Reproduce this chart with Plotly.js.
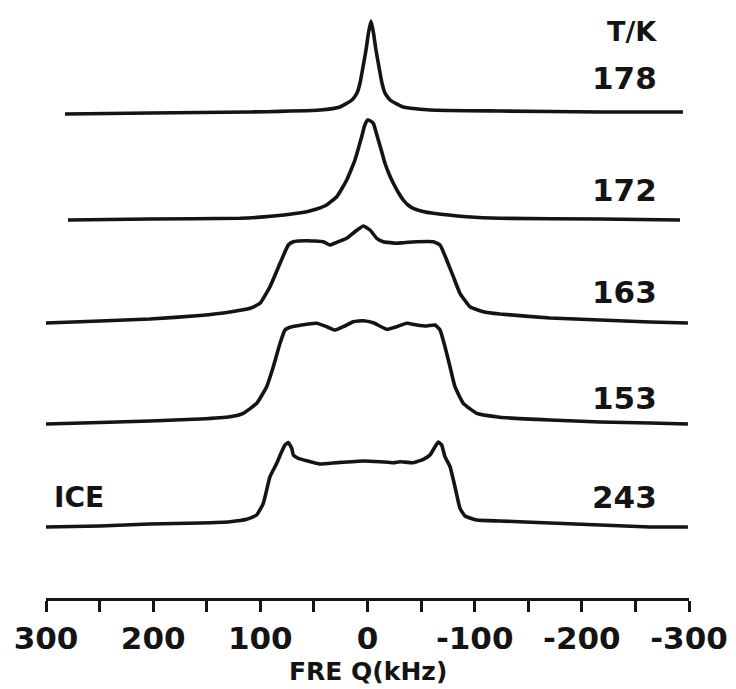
<!DOCTYPE html>
<html>
<head>
<meta charset="utf-8">
<script src="https://cdn.plot.ly/plotly-3.0.1.min.js"></script>
<style>
  html, body { margin: 0; padding: 0; background: #ffffff; }
  #chart { width: 736px; height: 689px; }
</style>
</head>
<body>
<div id="chart"></div>
<script>
// Temperatures (K) for each stacked spectrum, top to bottom
const temperatures = ['178', '172', '163', '153', '243'];
const sideLabel = 'ICE';
const unitLabel = 'T/K';
const axisTitle = 'FRE Q(kHz)';

// Frequency (kHz) and intensity (arbitrary units)
const freq178 = [282.3, 202.9, 109.6, 44.3, 25.7, 14.5, 9.8, 7.0, 4.2, 1.4, -0.9, -3.3, -5.6, -7.9, -10.7, -13.5, -16.3, -21.0, -33.1, -58.3, -123.6, -216.9, -294.4];
const int178  = [-2, -1, 0, 2, 5, 12, 19, 29, 45, 62, 79, 91, 79, 62, 45, 29, 19, 12, 5, 2, 1, 0, 0];

const freq172 = [279.5, 203.0, 119.0, 87.9, 56.7, 47.4, 38.1, 28.7, 24.1, 19.4, 15.4, 11.7, 8.4, 5.4, 2.8, -0.2, -2.8, -5.4, -7.7, -10.1, -13.1, -16.3, -20.1, -24.1, -28.5, -33.4, -37.8, -42.7, -51.8, -61.4, -92.6, -123.6, -216.9, -291.6];
const int172  = [0, 1, 1.7, 4, 8.3, 11, 15, 23.3, 31, 40, 50, 60, 72, 83.3, 94, 100, 99, 96.7, 89, 80, 69, 56.7, 46, 36.7, 28, 20, 15, 11.7, 8.5, 6.7, 3.3, 1.7, 1, 0];

const freq163 = [300.9, 249.6, 203.0, 156.3, 128.3, 109.6, 100.3, 91.0, 81.6, 73.9, 69.2, 56.7, 41.2, 35.0, 28.7, 19.4, 11.7, 3.9, -2.3, -8.6, -14.7, -27.2, -33.4, -45.9, -61.4, -67.7, -73.9, -80.1, -86.3, -95.6, -108.1, -123.6, -170.3, -216.9, -263.6, -299.0];
const int163  = [0, 2, 4, 7.5, 11, 14.7, 19.7, 36.3, 59.7, 78, 81.3, 82.3, 81.3, 78, 80.7, 84.7, 91.3, 97, 93, 84.7, 81.3, 79.7, 80.3, 81.3, 81.3, 78, 63, 46.3, 29.7, 16.3, 11.3, 9, 5, 3, 1, 0];

const freq153 = [300.9, 249.6, 203.0, 156.3, 128.3, 115.9, 103.4, 94.1, 87.9, 81.6, 77.0, 72.3, 61.4, 47.4, 38.1, 30.3, 22.6, 13.3, 3.9, -5.4, -17.9, -27.2, -36.6, -45.9, -55.2, -63.0, -67.7, -72.3, -77.0, -81.6, -89.4, -101.9, -123.6, -170.3, -216.9, -263.6, -299.0];
const int153  = [0, 1.5, 3, 5, 7.3, 10.7, 20.7, 37.3, 57.3, 80.7, 94, 96.7, 99, 100.7, 97.3, 94, 97.3, 102.3, 103.3, 101.3, 94.7, 97.3, 100.7, 99, 98, 99, 94, 77.3, 57.3, 37.3, 20.7, 10.7, 6.7, 4, 2, 1, 0];

const freq243 = [300.9, 249.6, 203.0, 156.3, 128.3, 112.7, 103.4, 97.2, 91.0, 84.7, 80.1, 77.0, 73.9, 70.7, 69.2, 64.6, 56.7, 44.3, 28.7, 3.9, -11.7, -24.1, -30.3, -42.7, -52.1, -58.3, -63.0, -66.1, -69.2, -72.3, -77.0, -81.6, -86.3, -91.0, -101.9, -123.6, -170.3, -216.9, -263.6, -299.0];
const int243  = [0, 1, 3, 4, 5.3, 7.7, 12, 23.7, 50.3, 63.7, 75.3, 82, 84.5, 78.7, 72, 68.7, 66.3, 63, 64.3, 66, 65.3, 64.3, 65.3, 64.3, 67.7, 72, 80.3, 85, 82, 70.3, 60.3, 40.3, 18.7, 11, 7, 6, 4, 2, 0, 0];

// Vertical stacking offsets of each spectrum (same units as intensity)
const offsets = [486, 378, 275, 174, 71];

// Axis ticks
const tickValues = [300, 250, 200, 150, 100, 50, 0, -50, -100, -150, -200, -250, -300];
const tickLabels = ['300', '', '200', '', '100', '', '0', '', '-100', '', '-200', '', '-300'];

const freqs = [freq178, freq172, freq163, freq153, freq243];
const ints  = [int178, int172, int163, int153, int243];

const FONT = 'DejaVu Sans, Arial, sans-serif';
const INK = '#141414';

const traces = freqs.map((f, i) => ({
  type: 'scatter',
  mode: 'lines',
  x: f,
  y: ints[i].map(v => v + offsets[i]),
  line: { color: INK, width: 3.6, shape: 'spline', smoothing: 0.4 },
  hoverinfo: 'skip',
  showlegend: false
}));

const annotations = [];
annotations.push({ x: -247, y: 567, xref: 'x', yref: 'y', text: unitLabel, showarrow: false,
  xanchor: 'center', yanchor: 'middle', font: { family: FONT, size: 27, color: INK, weight: 'bold' } });
const labelY = [520, 408, 306, 200, 101];
temperatures.forEach((t, i) => {
  annotations.push({ x: -240, y: labelY[i], xref: 'x', yref: 'y', text: t, showarrow: false,
    xanchor: 'center', yanchor: 'middle', font: { family: FONT, size: 31, color: INK, weight: 'bold' } });
});
annotations.push({ x: 294, y: 101, xref: 'x', yref: 'y', text: sideLabel, showarrow: false,
  xanchor: 'left', yanchor: 'middle', font: { family: FONT, size: 28, color: INK, weight: 'bold' } });
// axis title placed below the tick labels
annotations.push({ x: 0.5, y: -0.1237, xref: 'paper', yref: 'paper', text: axisTitle, showarrow: false,
  xanchor: 'center', yanchor: 'middle', borderpad: 0, font: { family: FONT, size: 25, color: INK, weight: 'bold' } });

const layout = {
  width: 736,
  height: 689,
  margin: { l: 46, r: 47, t: 0, b: 91, pad: 0 },
  paper_bgcolor: '#ffffff',
  plot_bgcolor: '#ffffff',
  showlegend: false,
  xaxis: {
    range: [300, -300],
    tickmode: 'array',
    tickvals: tickValues,
    ticktext: tickLabels,
    ticks: 'outside',
    ticklen: 11,
    tickwidth: 3,
    tickcolor: INK,
    showline: true,
    linewidth: 3,
    linecolor: INK,
    showgrid: false,
    zeroline: false,
    tickfont: { family: FONT, size: 31, color: INK, weight: 'bold' }
  },
  yaxis: {
    range: [0, 598],
    visible: false,
    showgrid: false,
    zeroline: false
  },
  annotations: annotations
};

Plotly.newPlot('chart', traces, layout, { displayModeBar: false, staticPlot: true });
</script>
</body>
</html>
